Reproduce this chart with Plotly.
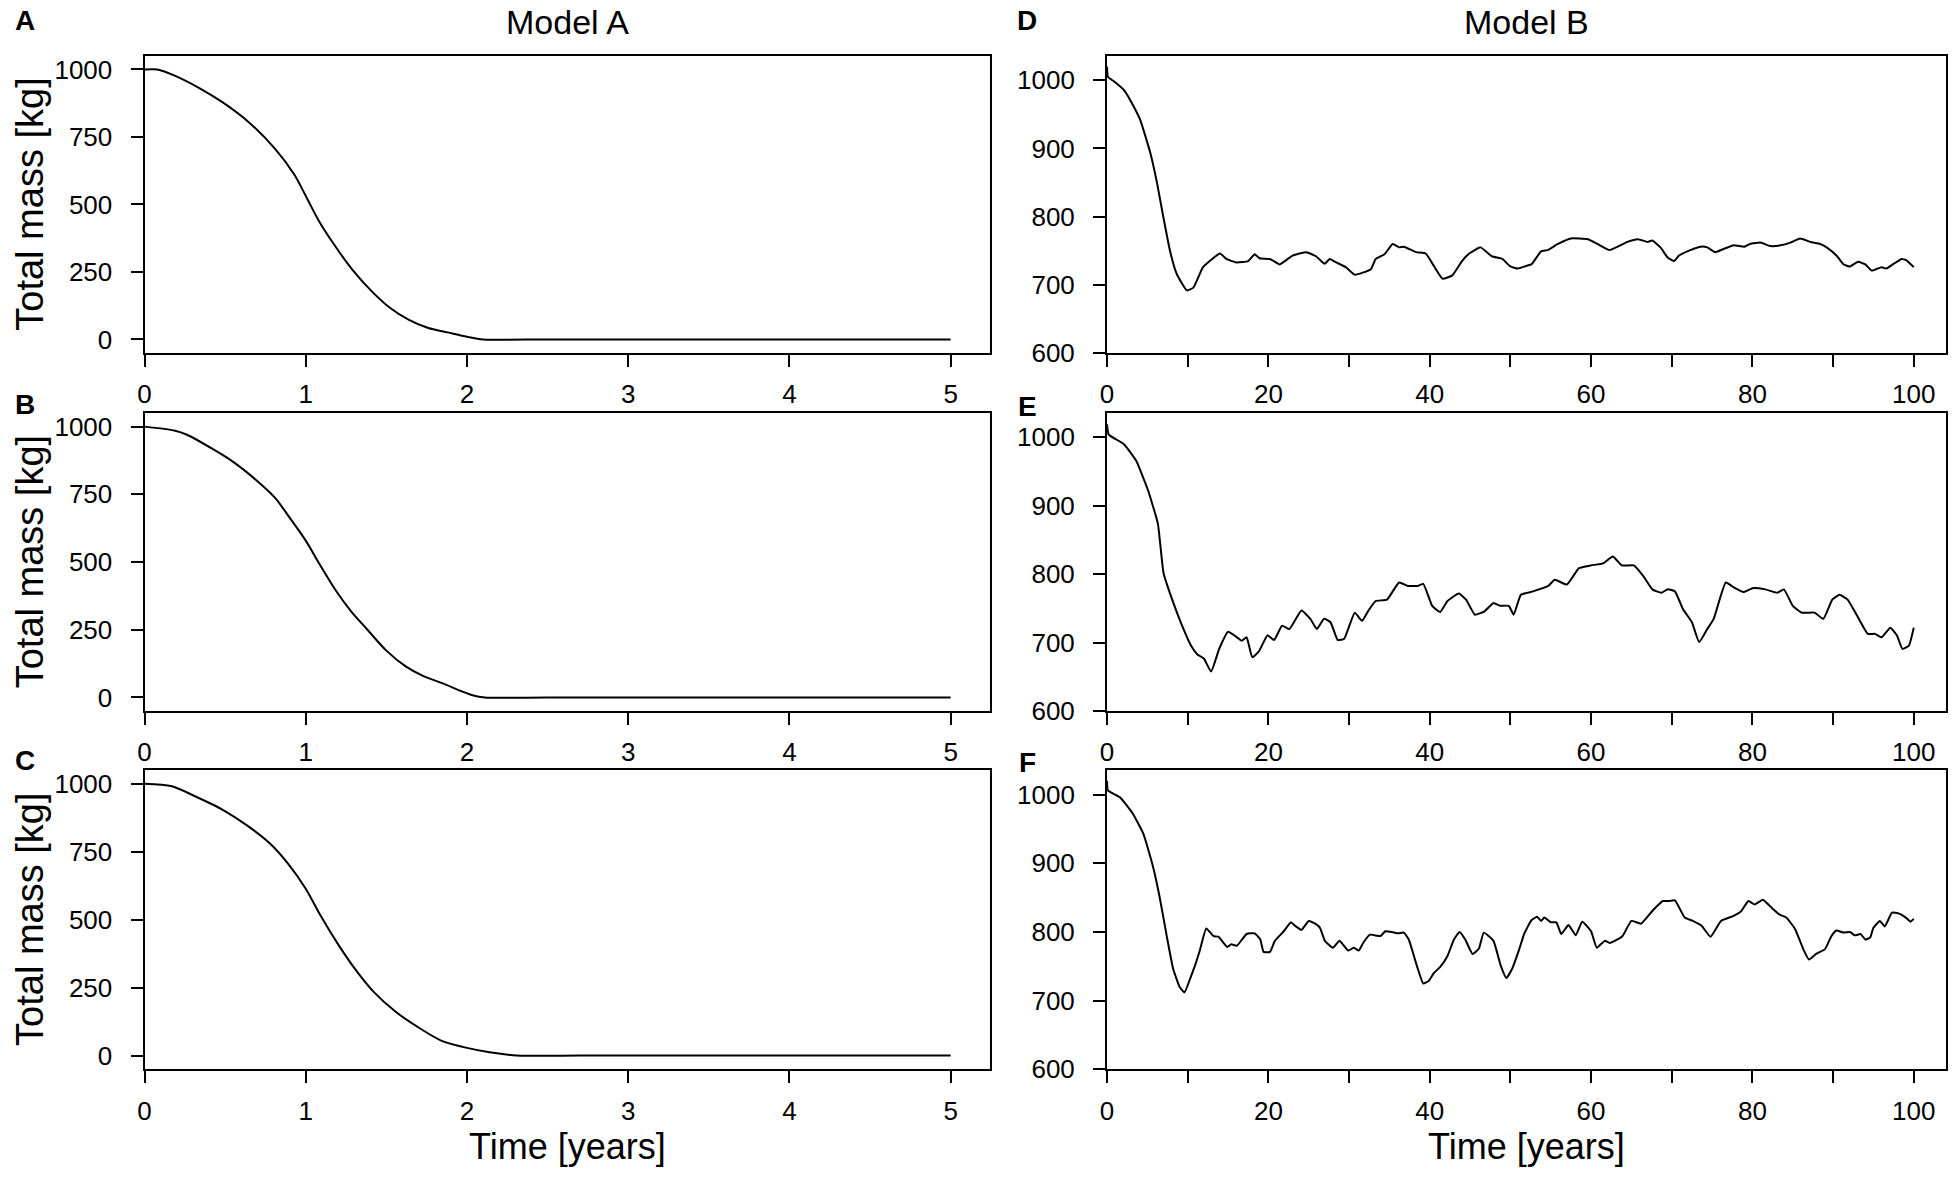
import plotly.graph_objects as go
from plotly.subplots import make_subplots

# Model A, panels A-C (time in years, mass in kg)
a_t = [0, 0.08, 0.18, 0.34, 0.49, 0.65, 0.81, 0.93, 1.01, 1.09, 1.21, 1.29, 1.41,
       1.52, 1.64, 1.76, 1.88, 2.0, 2.1, 2.5, 3.0, 4.0, 5.0]
a_m = [1000, 1000, 979, 931, 876, 803, 706, 610, 520, 430, 322, 258, 178,
       118, 72, 42, 26, 10, 0, 0, 0, 0, 0]

b_t = [0, 0.19, 0.26, 0.43, 0.55, 0.69, 0.81, 0.9, 1.0, 1.09, 1.19, 1.28, 1.38,
       1.5, 1.62, 1.73, 1.85, 1.97, 2.04, 2.11, 2.5, 3.0, 4.0, 5.0]
b_m = [1000, 985, 971, 915, 870, 804, 737, 664, 579, 488, 392, 319, 252,
       173, 115, 79, 52, 22, 7, 0, 0, 0, 0, 0]

c_t = [0, 0.17, 0.31, 0.48, 0.64, 0.78, 0.89, 1.0, 1.09, 1.2, 1.31, 1.42, 1.56,
       1.7, 1.84, 2.0, 2.14, 2.31, 2.7, 3.0, 4.0, 5.0]
c_m = [1000, 991, 955, 906, 845, 779, 706, 614, 517, 410, 315, 235, 160,
       103, 55, 28, 12, 0, 0, 0, 0, 0]

# Model B, panels D-F
d_t = [0, 0.1, 1.0, 2.06, 3.0, 4.1, 5.35, 6.17, 7.0, 7.8, 8.64, 9.9, 10.7, 11.9,
       14.0, 14.8, 16.0, 17.5, 18.3, 18.9, 20.2, 21.4, 23.0, 24.7, 25.9, 27.0,
       27.6, 28.4, 29.6, 30.7, 31.7, 32.7, 33.3, 34.4, 35.4, 36.2, 36.8, 38.3,
       39.5, 40.5, 41.6, 42.8, 44.0, 44.9, 46.3, 47.7, 49.0, 50.0, 50.9, 52.0,
       52.6, 53.8, 54.6, 55.9, 57.5, 59.6, 60.8, 62.3, 63.3, 64.5, 65.8, 67.0,
       67.6, 68.6, 69.5, 70.3, 70.9, 72.3, 73.6, 74.4, 75.4, 76.5, 77.7, 79.0,
       79.7, 81.0, 82.2, 83.5, 84.7, 85.9, 87.2, 88.4, 89.2, 90.5, 91.3, 92.1,
       93.1, 94.0, 94.8, 96.0, 96.6, 97.4, 98.5, 99.1, 100]
d_m = [1020, 1005, 997, 986, 968, 942, 894, 851, 798, 750, 716, 692, 696, 726,
       746, 738, 733, 735, 745, 739, 738, 730, 743, 748, 742, 731,
       738, 733, 726, 715, 718, 723, 738, 745, 760, 755, 756, 748,
       746, 728, 709, 714, 735, 746, 755, 742, 738, 727, 724, 728,
       730, 749, 751, 760, 768, 767, 760, 751, 756, 763, 767, 763,
       765, 755, 740, 735, 743, 751, 756, 755, 748, 753, 758, 756,
       760, 762, 757, 758, 762, 768, 763, 760, 755, 742, 730, 727,
       734, 730, 721, 726, 724, 730, 738, 736, 726]

e_t = [0, 0.2, 2.1, 3.6, 5.1, 6.3, 7.0, 8.2, 9.3, 10.4, 11.2, 12.0, 12.9, 13.9,
       15.0, 16.1, 16.7, 17.3, 18.0, 18.8, 19.9, 20.7, 21.7, 22.6, 24.1, 25.2,
       26.0, 26.9, 27.7, 28.6, 29.4, 30.7, 31.6, 32.4, 33.3, 34.7, 36.2, 37.3,
       38.5, 39.2, 40.3, 41.3, 42.2, 43.6, 44.5, 45.6, 46.8, 47.9, 48.7, 49.8,
       50.4, 51.3, 52.8, 54.7, 55.5, 57.0, 58.5, 60.0, 61.5, 62.7, 63.8, 65.3,
       66.5, 67.6, 68.7, 69.5, 70.4, 71.4, 72.5, 73.4, 74.4, 75.2, 76.7, 77.8,
       78.9, 80.1, 81.6, 83.1, 83.9, 85.0, 86.1, 87.7, 88.8, 89.9, 90.8, 91.8,
       93.0, 94.3, 95.2, 96.0, 97.1, 97.9, 98.6, 99.4, 100]
e_m = [1019, 1004, 990, 966, 922, 874, 802, 759, 725, 696, 683, 677, 658, 691,
       716, 708, 703, 708, 679, 687, 711, 704, 725, 720, 747, 735,
       720, 735, 730, 704, 706, 744, 732, 747, 761, 763, 788, 783,
       783, 786, 754, 745, 761, 772, 763, 741, 746, 758, 754, 754,
       741, 770, 775, 783, 792, 785, 809, 813, 816, 826, 813, 813,
       797, 778, 773, 778, 775, 749, 730, 701, 720, 735, 788, 780,
       774, 780, 778, 773, 778, 754, 744, 744, 735, 763, 770, 763,
       739, 713, 713, 708, 722, 711, 691, 696, 722]

f_t = [0, 0.1, 1.6, 3.2, 4.5, 5.7, 6.5, 7.4, 8.2, 9.0, 9.6, 10.3, 10.9, 11.5,
       12.3, 13.2, 13.8, 14.9, 15.4, 16.1, 17.3, 18.3, 19.0, 19.4, 20.2, 20.8,
       21.9, 22.8, 23.3, 24.1, 25.0, 25.8, 26.4, 27.0, 28.0, 28.8, 29.9, 30.6,
       31.2, 31.8, 32.6, 33.9, 34.5, 35.3, 36.1, 36.8, 37.4, 38.4, 39.2, 39.9,
       40.5, 41.3, 42.2, 43.0, 43.7, 44.4, 45.3, 46.1, 46.7, 47.9, 48.8, 49.5,
       50.2, 51.1, 51.7, 52.6, 53.3, 53.8, 54.2, 55.0, 55.7, 56.3, 57.2, 58.1,
       58.9, 60.0, 60.7, 61.7, 62.3, 63.1, 63.9, 65.0, 66.2, 67.7, 68.9, 69.7,
       70.4, 71.6, 72.6, 73.7, 74.8, 76.1, 77.6, 78.6, 79.5, 80.3, 81.3, 82.4,
       83.4, 84.2, 85.3, 86.3, 87.0, 87.9, 89.0, 89.8, 90.4, 91.3, 92.1, 92.7,
       93.4, 94.0, 94.6, 95.0, 95.8, 96.4, 97.3, 98.1, 98.9, 99.6, 100]
f_m = [1020, 1006, 996, 972, 943, 895, 852, 794, 746, 720, 712, 732, 751, 773,
       805, 794, 793, 778, 782, 780, 797, 798, 789, 771, 771, 787,
       801, 814, 809, 803, 816, 812, 806, 787, 777, 787, 773, 777,
       773, 785, 796, 794, 801, 800, 798, 799, 789, 751, 725, 729,
       740, 749, 765, 789, 800, 789, 768, 776, 799, 787, 751, 733,
       746, 775, 797, 817, 822, 816, 821, 814, 814, 797, 810, 795,
       815, 801, 777, 787, 784, 788, 794, 816, 812, 832, 845, 845,
       846, 821, 816, 809, 793, 816, 823, 830, 845, 840, 847, 835,
       825, 821, 804, 775, 760, 768, 775, 794, 802, 799, 800, 795,
       797, 789, 792, 806, 816, 808, 828, 827, 822, 815, 819]

col_titles = ["Model A", "Model B"]
ticks_a = [0, 250, 500, 750, 1000]
ticks_b = [600, 700, 800, 900, 1000]
xticks_a = [0, 1, 2, 3, 4, 5]
xticks_b = [0, 10, 20, 30, 40, 50, 60, 70, 80, 90, 100]
xlabels_b = ["0", "", "20", "", "40", "", "60", "", "80", "", "100"]

W, H = 1955, 1184
FONT = "Liberation Sans, Arial, sans-serif"


def px(x):
    return x / W


def py(y):
    return 1 - y / H


fig = make_subplots(rows=3, cols=2)

series = [(a_t, a_m, 1, 1), (d_t, d_m, 1, 2),
          (b_t, b_m, 2, 1), (e_t, e_m, 2, 2),
          (c_t, c_m, 3, 1), (f_t, f_m, 3, 2)]
for t, m, r, c in series:
    fig.add_trace(go.Scatter(
        x=t, y=m, mode="lines",
        line=dict(color="black", width=2, shape="spline",
                  smoothing=0.8 if c == 1 else 0.4),
        showlegend=False, hoverinfo="skip"), row=r, col=c)

# pixel boxes of the panels
col_px = [(138, 987), (1104, 1946)]
row_px = [(56, 357), (418, 720), (780, 1083)]

axis_common = dict(showline=True, linewidth=2, linecolor="black", mirror=True,
                   ticks="outside", ticklen=12, tickwidth=2, tickcolor="black",
                   showgrid=False, zeroline=False,
                   tickfont=dict(family=FONT, size=26, color="black"))

for r in range(3):
    for c in range(2):
        idx = r * 2 + c + 1
        x0, x1 = col_px[c]
        y0, y1 = row_px[r]
        xa = dict(axis_common, domain=[px(x0), px(x1)], ticklabelstandoff=5)
        ya = dict(axis_common, domain=[py(y1), py(y0)], ticklabelstandoff=13)
        if c == 0:
            xa.update(range=[0, 5.247], tickmode="array", tickvals=xticks_a)
            ya.update(range=[-51, 1049], tickmode="array", tickvals=ticks_a)
        else:
            xa.update(range=[0, 104.0], tickmode="array", tickvals=xticks_b,
                      ticktext=xlabels_b)
            ya.update(range=[600, 1035], tickmode="array", tickvals=ticks_b)
        key = "" if idx == 1 else str(idx)
        fig.layout["xaxis" + key].update(xa)
        fig.layout["yaxis" + key].update(ya)

ann = []
letter_pos = [(18, 20), (1024, 20), (18, 409), (1024, 411), (18, 770), (1024, 772)]
order = ["A", "D", "B", "E", "C", "F"]
for lab, (lx, ly) in zip(order, letter_pos):
    ann.append(dict(x=px(lx), y=py(ly), xref="paper", yref="paper",
                    text="<b>%s</b>" % lab, showarrow=False,
                    font=dict(family=FONT, size=28, color="black"),
                    xanchor="center", yanchor="middle"))

for c, title in enumerate(col_titles):
    cx = (col_px[c][0] + col_px[c][1]) / 2
    ann.append(dict(x=px(cx), y=1, xref="paper", yref="paper",
                    text=title, showarrow=False,
                    font=dict(family=FONT, size=34, color="black"),
                    xanchor="center", yanchor="top"))
    ann.append(dict(x=px(cx), y=py(1161), xref="paper", yref="paper",
                    text="Time [years]", showarrow=False,
                    font=dict(family=FONT, size=36, color="black"),
                    xanchor="center", yanchor="middle"))

for r in range(3):
    cy = (row_px[r][0] + row_px[r][1]) / 2
    ann.append(dict(x=0, y=py(cy), xref="paper", yref="paper",
                    text="Total mass [kg]", showarrow=False, textangle=-90,
                    font=dict(family=FONT, size=38, color="black"),
                    xanchor="left", yanchor="middle"))

fig.update_layout(width=W, height=H, margin=dict(l=0, r=0, t=0, b=0),
                  paper_bgcolor="white", plot_bgcolor="white",
                  annotations=ann)

# drop the browser's default 8px page margin so the figure fills the window
fig.write_html("out.html", config={"displayModeBar": False},
               post_script="document.body.style.margin = '0px';")
